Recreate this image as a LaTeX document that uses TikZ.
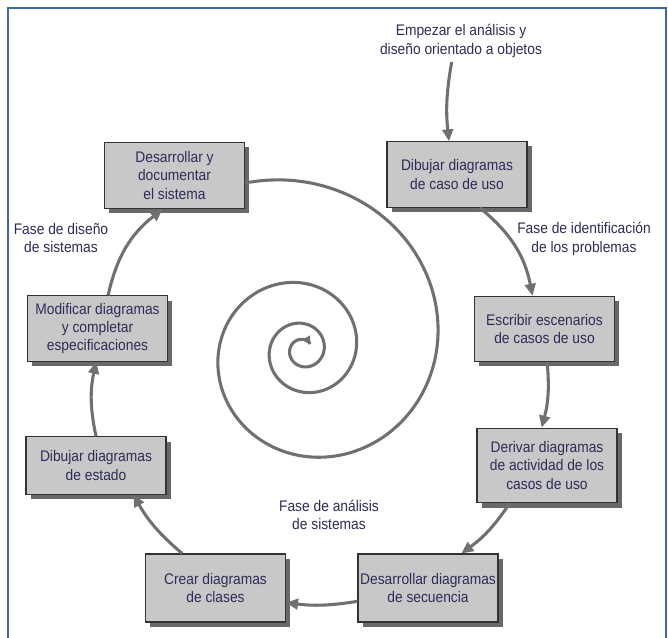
\documentclass[tikz,border=0pt]{standalone}
\usepackage{fontspec}
\setmainfont{Liberation Sans}[FakeStretch=0.9]
\usetikzlibrary{arrows.meta,shadows}
\definecolor{framecol}{RGB}{62,104,170}
\definecolor{inkblue}{RGB}{44,44,88}
\definecolor{boxgray}{RGB}{200,200,200}
\definecolor{shadowgray}{RGB}{105,105,105}
\definecolor{arrowgray}{RGB}{112,112,112}
\tikzset{
  stepbox/.style={draw=black!80, line width=0.8pt, fill=boxgray, text=inkblue,
    align=center, inner sep=0pt, minimum width=105pt, minimum height=49pt,
    font=\fontsize{11.5}{13.7}\selectfont,
    drop shadow={shadow xshift=3.5pt, shadow yshift=-3.5pt, fill=shadowgray, opacity=1}},
  phase/.style={text=inkblue, align=center, font=\fontsize{11.5}{13.7}\selectfont},
  flow/.style={draw=arrowgray, line width=2.3pt, -{Triangle[length=9pt,width=8pt]}},
  spiral/.style={draw=arrowgray, line width=2.3pt, -{Triangle[length=6pt,width=6pt]}}
}
\begin{document}
\begin{tikzpicture}[x=0.75pt, y=0.75pt]
    \useasboundingbox (0,0) rectangle (668,-638);
    % frame
    \draw[framecol, line width=1.6pt] (8,-650) -- (8,-8) -- (666,-8) -- (666,-650);

    % steps of the cycle
    \node[stepbox] (b1) at (457,-174.5) {Dibujar diagramas\\de caso de uso};
    \node[stepbox] (b2) at (544.5,-329) {Escribir escenarios\\de casos de uso};
    \node[stepbox, minimum height=56pt] (b3) at (547,-465.5) {Derivar diagramas\\de actividad de los\\casos de uso};
    \node[stepbox, minimum height=51pt] (b4) at (428,-588) {Desarrollar diagramas\\de secuencia};
    \node[stepbox, minimum height=51pt] (b5) at (215.5,-588) {Crear diagramas\\de clases};
    \node[stepbox, minimum height=43pt] (b6) at (96,-465.5) {Dibujar diagramas\\de estado};
    \node[stepbox] (b7) at (97.5,-328.5) {Modificar diagramas\\y completar\\especificaciones};
    \node[stepbox, minimum height=50pt] (b8) at (174.5,-175.5) {Desarrollar y\\documentar\\el sistema};

    % phase labels
    \node[phase] (start) at (461,-41) {Empezar el análisis y\\diseño orientado a objetos};
    \node[phase] (ident) at (584,-239) {Fase de identificación\\de los problemas};
    \node[phase] (anal) at (329,-515) {Fase de análisis\\de sistemas};
    \node[phase] (design) at (61,-238) {Fase de diseño\\de sistemas};

    % arrows
    \draw[flow] ([xshift=-7pt]start.south) to[bend right=8] ([xshift=-6pt]b1.north);
    \draw[flow] ([xshift=17pt]b1.south) to[bend left=20] ([xshift=-9pt]b2.north);
    \draw[flow] ([xshift=2pt]b2.south) to[bend left=10] ([xshift=-4pt]b3.north);
    \draw[flow] ([xshift=-28pt]b3.south) to[bend left=10] ([xshift=25pt]b4.north);
    \draw[flow] ([yshift=-10pt]b4.west) to[bend left=8] ([yshift=-11pt]b5.east);
    \draw[flow] ([xshift=-25pt]b5.north) to[bend left=10] ([xshift=28pt]b6.south);
    \draw[flow] (b6.north) to[bend left=12] ([xshift=-1pt]b7.south);
    \draw[flow] ([xshift=8pt]b7.north) to[bend left=20] ([xshift=-9pt]b8.south);

    % spiral
    \draw[spiral] ([yshift=-5pt]b8.east) -- plot[smooth, domain=0:1150, samples=400]
      ({303+176*exp(-0.002566*\x)*cos(107.5-\x)}, {-350+176*exp(-0.002566*\x)*sin(107.5-\x)});
\end{tikzpicture}
\end{document}
